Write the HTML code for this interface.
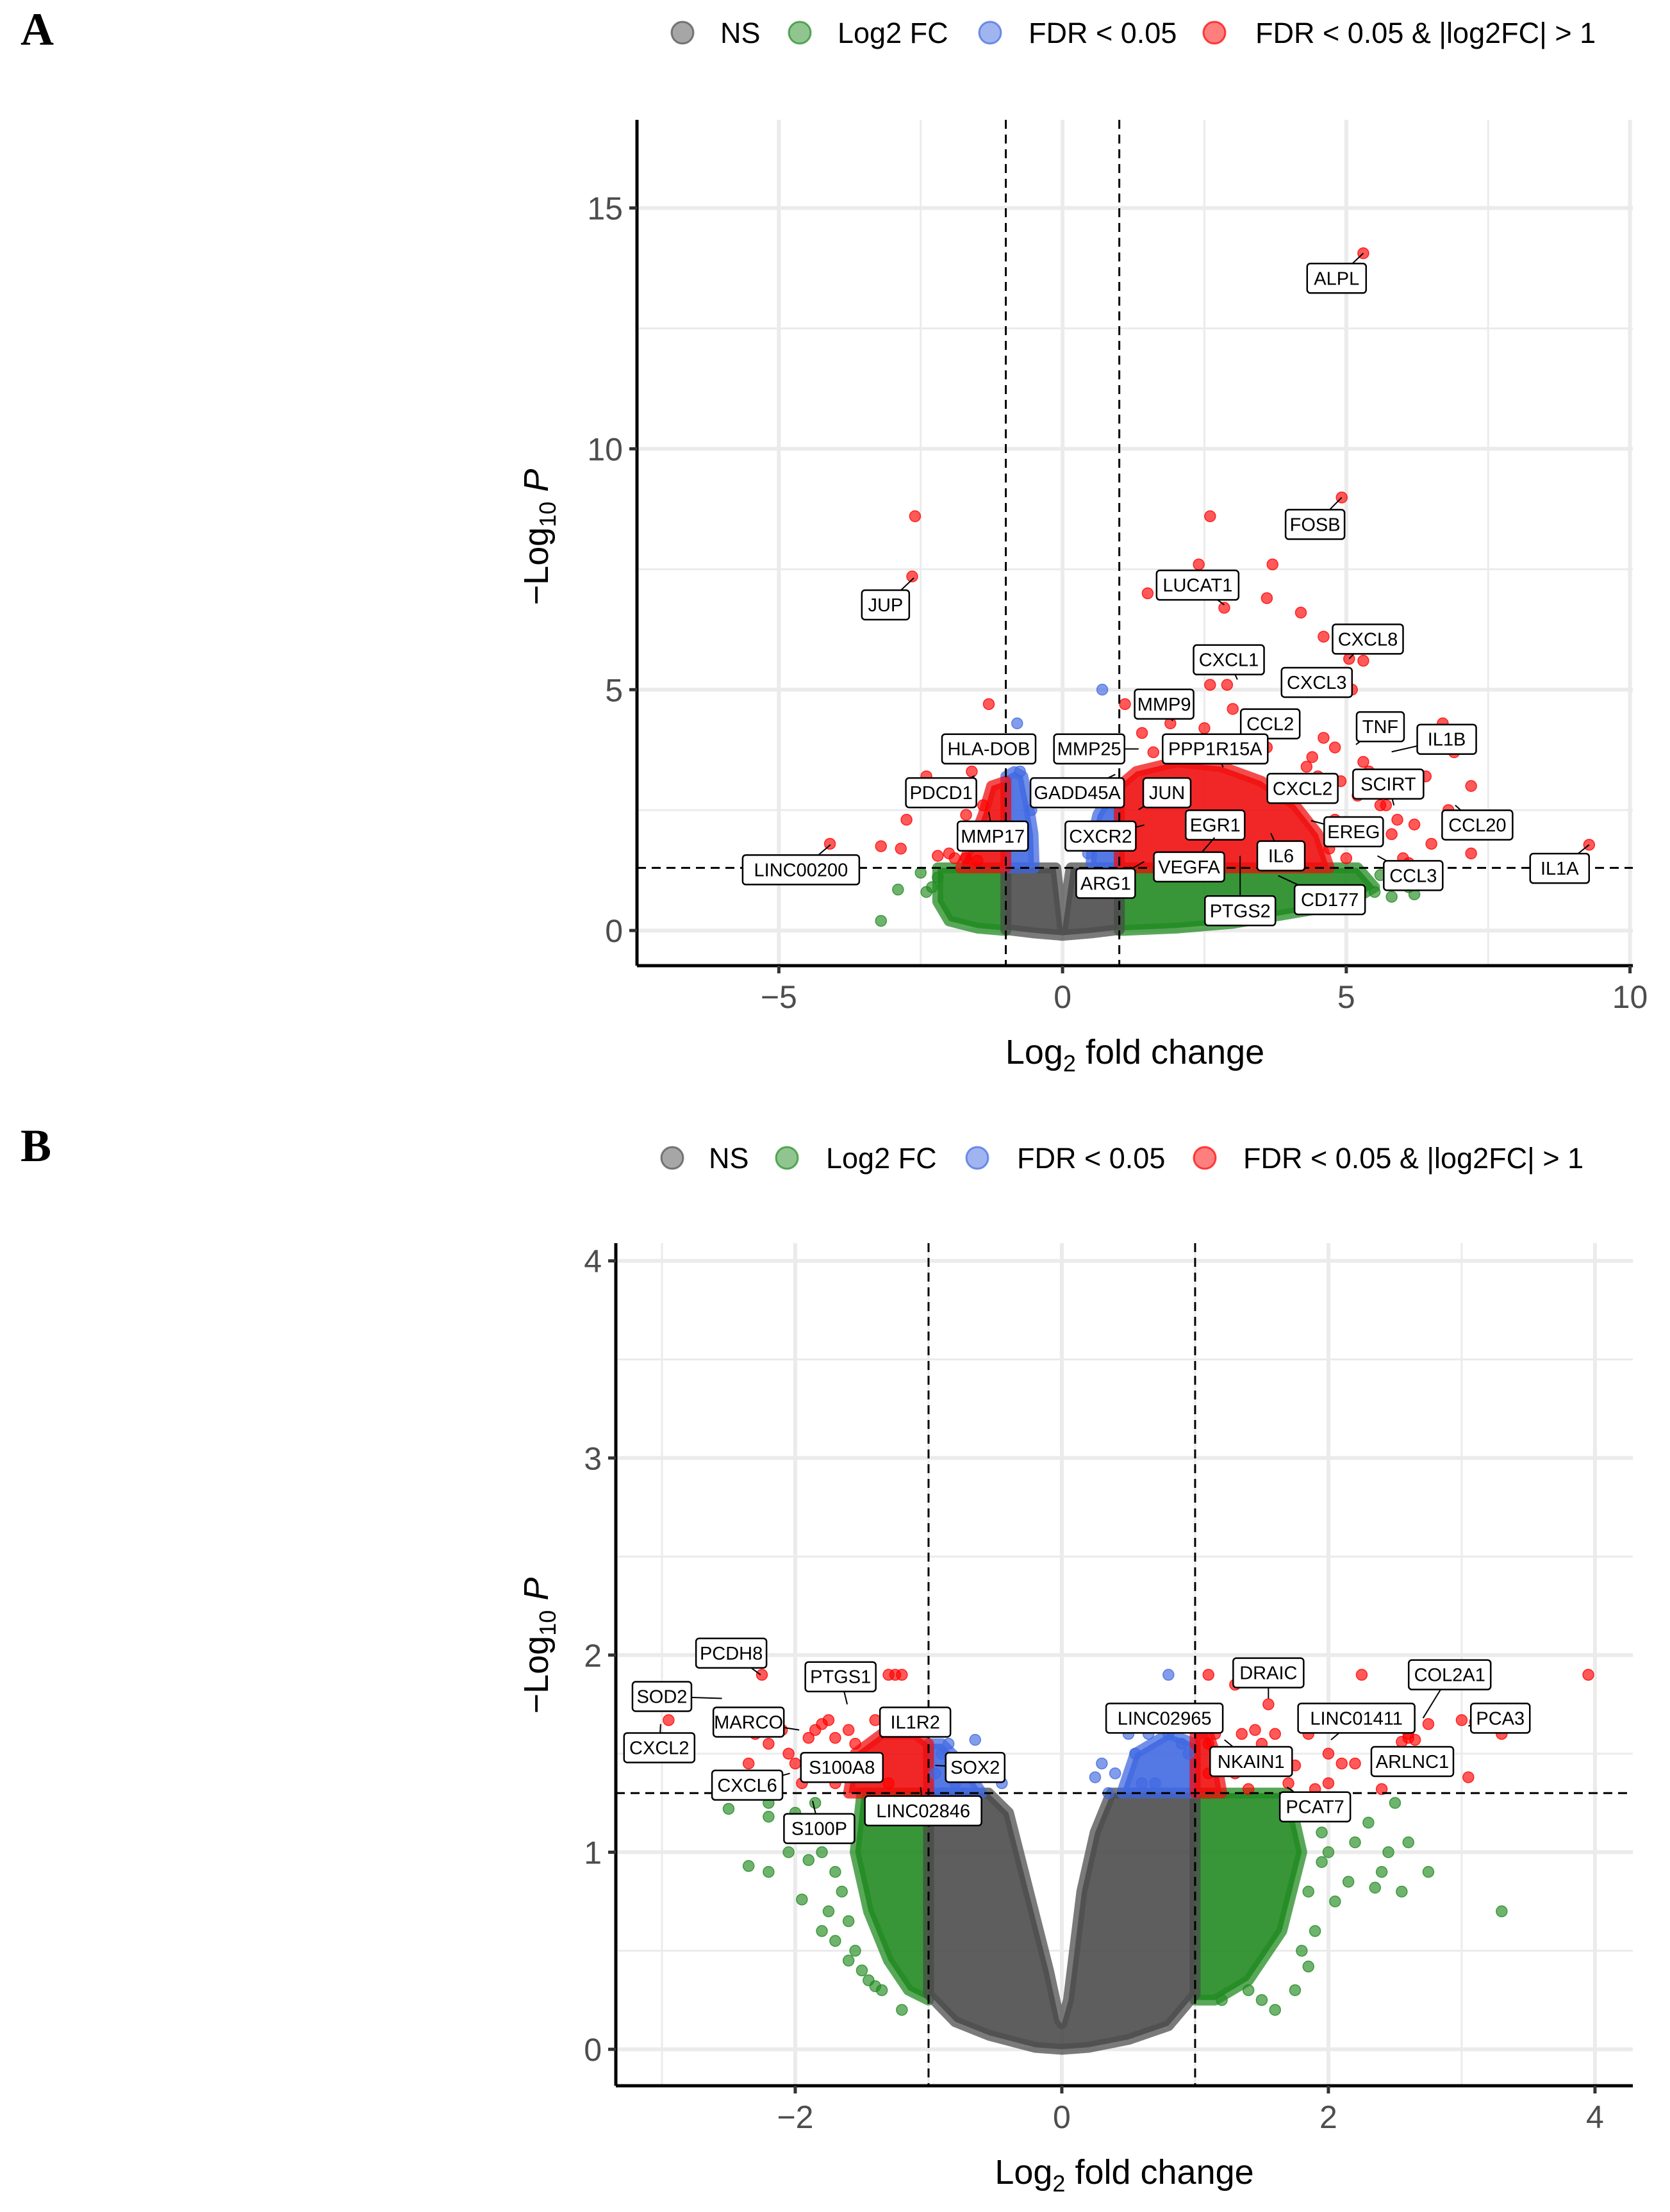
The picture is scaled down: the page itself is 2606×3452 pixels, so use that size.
<!DOCTYPE html>
<html><head><meta charset="utf-8">
<style>
html,body{margin:0;padding:0;background:#fff;}
svg{display:block;font-family:"Liberation Sans",sans-serif;}
</style></head>
<body>
<svg id="fig" width="2606" height="3452" viewBox="0 0 2606 3452" xmlns="http://www.w3.org/2000/svg">
<text x="32" y="70" font-family="Liberation Serif" font-weight="bold" font-size="72">A</text>
<text x="32" y="1812" font-family="Liberation Serif" font-weight="bold" font-size="72">B</text>
<g id="panelA"></g>
<g id="panelB"></g>
</svg>
<script>
// ===== Panel A data =====
const aGray = [[-1,1.3],[-0.12,1.3],[0,0.05],[0.1,0.9],[0.15,1.3],[1,1.3],[1,0.02],[0.5,-0.05],[0,-0.1],[-0.5,-0.05],[-1,0.02]];
const aGreenL = [[-2.2,1.3],[-1,1.3],[-1,0.0],[-1.5,0.05],[-2.0,0.2],[-2.2,0.6]];
const aGreenR = [[1,1.3],[5.2,1.3],[5.5,0.9],[5.0,0.55],[4.0,0.35],[3,0.15],[2,0.05],[1,0.0]];
const aBlueL = [[-1,1.3],[-0.5,1.3],[-0.52,2.0],[-0.6,2.6],[-0.7,3.2],[-0.85,3.3],[-1,3.2]];
const aBlueR = [[0.5,1.3],[1,1.3],[1,2.8],[0.8,2.75],[0.62,2.4],[0.52,1.9]];
const aRedL = [[-1,1.3],[-1.8,1.3],[-1.6,1.8],[-1.4,2.4],[-1.25,3.0],[-1,3.1]];
const aRedR = [[1,1.3],[1,3.0],[1.3,3.3],[2,3.5],[2.8,3.4],[3.5,3.1],[4.1,2.6],[4.5,2.0],[4.7,1.3]];
const aRedX = [-2.6,-2.65,-1.3,-4.1,-3.2,-2.75,-2.85,-2.4,-2.2,-1.7,-1.6,-1.7,-1.4,-1.9,-2.0,-1.5,2.6,2.4,1.5,2.85,3.7,3.6,4.2,4.6,5.3,5.1,4.0,2.6,2.9,3.0,1.1,2.5,1.9,4.6,4.8,5.3,6.7,6.9,7.2,6.8,7.2,6.5,9.28,5.9,6.1,5.8,5.05,4.92,5.3,3.9,4.4,5.6,6.2,4.9,5.2,5.5,4.7,5.0,5.7,6.0,4.3,4.5,3.6,3.3,2.2,1.6,1.4,5.4,6.4,4.8];
const aRedY = [8.6,7.35,4.7,1.8,1.75,2.3,1.7,3.2,1.55,1.5,3.3,2.4,2.6,1.5,1.6,1.45,8.6,7.6,7.0,6.7,7.6,6.9,6.6,6.1,5.6,5.0,5.0,5.1,5.1,4.6,4.7,4.2,4.3,4.0,3.8,3.5,4.3,3.7,3.0,2.5,1.6,1.8,1.78,2.3,1.4,2.0,5.64,8.99,14.06,4.2,3.6,2.6,2.2,3.1,2.8,1.9,1.7,1.5,2.6,1.5,3.4,3.2,3.8,3.6,3.9,3.7,4.1,3.3,3.2,2.3];
const aBlueX = [0.7,-0.8,-0.75,0.6,0.8,-0.55,0.45];
const aBlueY = [5.0,4.3,3.3,2.9,3.0,2.5,1.6];
const aGreenX = [-3.2,-2.9,-2.4,-2.2,5.8,6.1,5.5,5.9,-2.5,-2.3,5.6,6.2];
const aGreenY = [0.2,0.85,0.8,1.1,0.7,0.9,0.8,1.1,1.2,0.9,1.15,0.75];
const aLabels = ["ALPL","FOSB","LUCAT1","JUP","CXCL8","CXCL1","CXCL3","MMP9","CCL2","TNF","IL1B","HLA-DOB","MMP25","PPP1R15A","GADD45A","JUN","CXCL2","SCIRT","PDCD1","EGR1","EREG","CCL20","MMP17","CXCR2","IL6","VEGFA","CCL3","IL1A","LINC00200","ARG1","CD177","PTGS2"];
const aLabX = [4.83,4.45,2.38,-3.12,5.38,2.93,4.48,1.79,3.66,5.60,6.77,-1.30,0.47,2.69,0.26,1.84,4.23,5.74,-2.14,2.69,5.13,7.31,-1.23,0.67,3.85,2.23,6.18,8.76,-4.61,0.76,4.71,3.13];
const aLabY = [13.54,8.43,7.17,6.76,6.05,5.62,5.15,4.70,4.29,4.23,3.97,3.77,3.77,3.77,2.86,2.86,2.95,3.04,2.86,2.19,2.05,2.19,1.96,1.96,1.55,1.32,1.14,1.29,1.26,0.98,0.64,0.41];
const aPtX = [5.30,4.92,2.85,-2.62,5.05,3.08,4.30,1.94,3.18,5.17,5.80,-1.23,1.34,2.83,0.93,1.34,3.80,5.84,-1.55,2.19,4.38,6.92,-1.30,1.44,3.67,2.68,5.55,9.28,-4.09,1.44,3.80,3.13];
const aPtY = [14.06,8.99,6.76,7.32,5.64,5.21,4.83,4.35,4.06,3.86,3.71,3.45,3.77,3.39,3.24,2.51,3.13,2.60,3.21,2.02,2.28,2.60,2.46,2.19,2.02,1.93,1.55,1.78,1.78,1.43,1.14,1.55];
const aXTicks = [-5,0,5,10], aYTicks = [0,5,10,15];

// ===== Panel B data =====
const bGray = [[-1,1.3],[-0.55,1.3],[-0.4,1.2],[-0.25,0.8],[-0.1,0.4],[-0.02,0.15],[0,0.13],[0.05,0.25],[0.15,0.8],[0.25,1.1],[0.37,1.3],[1,1.3],[1,0.28],[0.8,0.12],[0.5,0.05],[0.2,0.01],[0,0],[-0.2,0.01],[-0.54,0.07],[-0.8,0.14],[-1,0.28]];
const bGreenL = [[-1.5,1.3],[-1,1.3],[-1,0.25],[-1.15,0.3],[-1.3,0.45],[-1.45,0.7],[-1.55,1.0]];
const bGreenR = [[1,1.3],[1.7,1.3],[1.8,1.0],[1.65,0.6],[1.4,0.35],[1.15,0.25],[1,0.25]];
const bBlueL = [[-1,1.3],[-0.6,1.3],[-0.75,1.45],[-0.9,1.55],[-1,1.55]];
const bBlueR = [[0.45,1.3],[1,1.3],[1,1.55],[0.8,1.6],[0.55,1.5]];
const bRedL = [[-1,1.3],[-1.6,1.3],[-1.55,1.5],[-1.35,1.6],[-1.1,1.6],[-1,1.55]];
const bRedR = [[1,1.3],[1.2,1.3],[1.15,1.5],[1.1,1.6],[1,1.6]];
const bRedX = [-2.95,-2.25,-2.3,-2.35,-2.2,-2.05,-1.85,-1.75,-1.6,-1.4,-1.3,-1.25,-1.2,-1.95,-1.7,-1.5,-1.3,-2.1,-1.9,-1.8,1.1,1.3,1.55,2.25,3.95,3.0,3.3,3.05,2.75,2.6,2.4,2.1,2.0,1.85,1.6,1.15,1.2,1.1,1.4,1.7,1.9,2.0,1.1,2.65,2.55,3.1,1.65,1.75,1.45,-1.7,-1.55,-2.0,-1.65,1.35,1.5,1.3,2.2,2.6];
const bRedY = [1.67,1.9,1.6,1.45,1.55,1.5,1.62,1.67,1.62,1.67,1.9,1.9,1.9,1.35,1.35,1.4,1.35,1.62,1.58,1.65,1.9,1.85,1.75,1.9,1.9,1.67,1.6,1.38,1.65,1.58,1.32,1.45,1.5,1.6,1.6,1.6,1.5,1.4,1.32,1.35,1.32,1.35,1.55,1.57,1.56,1.66,1.47,1.44,1.62,1.58,1.55,1.45,1.45,1.6,1.55,1.4,1.45,1.6];
const bBlueX = [-0.85,-0.65,-0.9,-0.95,-0.8,-0.45,-0.9,0.8,0.5,0.55,0.3,0.25,0.4,0.6,0.8,0.9,0.35,0.7,0.95,0.65];
const bBlueY = [1.55,1.57,1.5,1.4,1.35,1.35,1.3,1.9,1.6,1.5,1.45,1.38,1.4,1.35,1.6,1.55,1.3,1.35,1.5,1.6];
const bGreenX = [-2.5,-2.2,-2.2,-2.35,-2.2,-2.05,-1.9,-1.8,-1.95,-1.8,-1.7,-1.5,-1.4,-1.2,3.3,2.75,2.55,2.5,2.6,2.3,2.1,2.15,1.9,1.85,1.2,1.4,2.35,2.0,1.95,2.2,-1.6,-1.65,-1.75,-1.55,-1.6,-1.45,-1.35,-1.7,1.8,1.85,1.95,2.05,2.45,2.4,1.75,1.6,1.5,-2.0,-1.85];
const bGreenY = [1.22,1.18,1.25,0.93,0.9,1.0,0.96,1.0,0.76,0.6,0.55,0.4,0.32,0.2,0.7,0.9,0.8,1.25,1.05,1.15,1.2,0.85,0.6,0.42,0.25,0.3,0.82,1.0,0.95,1.05,0.65,0.8,0.7,0.5,0.45,0.35,0.3,0.9,0.5,0.8,1.1,0.75,1.0,0.9,0.3,0.2,0.25,1.2,1.25];
const bLabels = ["PCDH8","SOD2","CXCL2","MARCO","PTGS1","IL1R2","S100A8","CXCL6","S100P","SOX2","LINC02846","LINC02965","DRAIC","LINC01411","COL2A1","PCA3","NKAIN1","ARLNC1","PCAT7"];
const bLabX = [-2.48,-3.0,-3.02,-2.35,-1.66,-1.10,-1.65,-2.36,-1.82,-0.65,-1.04,0.77,1.55,2.21,2.91,3.29,1.42,2.63,1.90];
const bLabY = [2.01,1.79,1.53,1.66,1.89,1.66,1.43,1.34,1.12,1.43,1.21,1.68,1.91,1.68,1.90,1.68,1.46,1.46,1.23];
const bPtX = [-2.26,-2.55,-3.01,-1.97,-1.61,-1.35,-1.91,-2.04,-1.87,-0.95,-1.06,1.20,1.55,2.02,2.71,3.05,1.22,2.52,1.69];
const bPtY = [1.90,1.78,1.65,1.62,1.75,1.58,1.46,1.40,1.26,1.44,1.33,1.63,1.78,1.57,1.68,1.64,1.57,1.54,1.33];
const bXTicks = [-2,0,2,4], bYTicks = [0,1,2,3,4];

const NS = "http://www.w3.org/2000/svg";
const COL = {gray:"#4d4d4d", green:"#228B22", blue:"#4169E1", red:"#FF0000"};
function mk(tag, attrs, parent){const e=document.createElementNS(NS,tag);for(const k in attrs)e.setAttribute(k,attrs[k]);parent.appendChild(e);return e;}

function panel(g, cfg){
  const {L,R,T,B,x0,x1,y0,y1} = cfg;
  const sx = v => L + (v-x0)/(x1-x0)*(R-L);
  const sy = v => B - (v-y0)/(y1-y0)*(B-T);
  cfg.minorX.forEach(v=>{const l=mk('line',{x1:sx(v),x2:sx(v),y1:T,y2:B,stroke:'#ebebeb','stroke-width':3},g);
    });
  cfg.minorY.forEach(v=>{const l=mk('line',{x1:L,x2:R,y1:sy(v),y2:sy(v),stroke:'#ebebeb','stroke-width':3},g);
    });
  cfg.xt.forEach(v=>{const l=mk('line',{x1:sx(v),x2:sx(v),y1:T,y2:B,stroke:'#ebebeb','stroke-width':6},g);
    });
  cfg.yt.forEach(v=>{const l=mk('line',{x1:L,x2:R,y1:sy(v),y2:sy(v),stroke:'#ebebeb','stroke-width':6},g);
    });
  const region=(pts,c,name)=>{const p=mk('polygon',{points:pts.map(q=>sx(q[0])+','+sy(q[1])).join(' '),fill:c,stroke:c,'stroke-width':17,'stroke-linejoin':'round','fill-opacity':0.9,'stroke-opacity':0.75},g);
    };
  const dots=(xs,ys,c,name)=>{xs.forEach((x,i)=>{const d=mk('circle',{cx:sx(x),cy:sy(ys[i]),r:8.5,fill:c,'fill-opacity':0.65,stroke:c,'stroke-opacity':0.8,'stroke-width':1.5},g);
    });};
  cfg.green.forEach(r=>region(r,COL.green,'log2fc-cloud'));
  region(cfg.gray,COL.gray,'ns-cloud');
  cfg.blue.forEach(r=>region(r,COL.blue,'fdr-cloud'));
  cfg.red.forEach(r=>region(r,'#f01010','significant-cloud'));
  dots(cfg.gX,cfg.gY,COL.green,'log2fc-point');
  dots(cfg.bX,cfg.bY,COL.blue,'fdr-point');
  dots(cfg.rX,cfg.rY,COL.red,'significant-point');
  [-1,1].forEach(v=>{const l=mk('line',{x1:sx(v),x2:sx(v),y1:T,y2:B,stroke:'#000','stroke-width':3,'stroke-dasharray':'14 9'},g);
    });
  const h=mk('line',{x1:L,x2:R,y1:sy(1.3),y2:sy(1.3),stroke:'#000','stroke-width':3,'stroke-dasharray':'14 9'},g);
  
  cfg.labs.forEach((t,i)=>{
    const lx=sx(cfg.lx[i]), ly=sy(cfg.ly[i]), px=sx(cfg.px[i]), py=sy(cfg.py[i]);
    const ln=mk('line',{x1:lx,y1:ly,x2:px,y2:py,stroke:'#000','stroke-width':2},g);
    
    const w=t.length*18+20;
    const r=mk('rect',{x:lx-w/2,y:ly-23,width:w,height:46,rx:5,fill:'#fff',stroke:'#000','stroke-width':2.5},g);
    
    const tx=mk('text',{x:lx,y:ly+10,'text-anchor':'middle','font-size':29,fill:'#000'},g);
    tx.textContent=t;
    
  });
  const ax=mk('line',{x1:L,x2:R,y1:B,y2:B,stroke:'#000','stroke-width':5},g);
  
  const ay=mk('line',{x1:L,x2:L,y1:T,y2:B,stroke:'#000','stroke-width':5},g);
  
  cfg.xt.forEach(v=>{mk('line',{x1:sx(v),x2:sx(v),y1:B,y2:B+12,stroke:'#333','stroke-width':5},g);
    const t=mk('text',{x:sx(v),y:B+66,'text-anchor':'middle','font-size':50,fill:'#4d4d4d'},g);
    t.textContent=(v<0?'\u2212'+(-v):v);});
  cfg.yt.forEach(v=>{mk('line',{x1:L-12,x2:L,y1:sy(v),y2:sy(v),stroke:'#333','stroke-width':5},g);
    const t=mk('text',{x:L-22,y:sy(v)+18,'text-anchor':'end','font-size':50,fill:'#4d4d4d'},g);
    t.textContent=v;});
  const xl=mk('text',{x:(L+R)/2,y:cfg.xlabY,'text-anchor':'middle','font-size':54,fill:'#000'},g);
  xl.innerHTML='Log<tspan font-size="36" dy="12">2</tspan><tspan dy="-12"> fold change</tspan>';
  
  const yl=mk('text',{transform:'translate('+cfg.ylabX+','+cfg.ylabY+') rotate(-90)','text-anchor':'middle','font-size':54,fill:'#000'},g);
  yl.innerHTML='\u2212Log<tspan font-size="36" dy="12">10</tspan><tspan dy="-12" font-style="italic"> P</tspan>';
  
  const lc=['#4d4d4d','#228B22','#4169E1','#FF0000'], lt=['NS','Log2 FC','FDR < 0.05','FDR < 0.05 & |log2FC| > 1'];
  lc.forEach((c,i)=>{const ci=mk('circle',{cx:cfg.legC[i],cy:cfg.legY,r:17,fill:c,'fill-opacity':0.5,stroke:c,'stroke-opacity':0.7,'stroke-width':3},g);
    
    const t=mk('text',{x:cfg.legT[i],y:cfg.legY+16,'font-size':45,fill:'#000'},g);t.textContent=lt[i];
    });
}

panel(document.getElementById('panelA'),{L:994,R:2548,T:187,B:1507,x0:-7.5,x1:10.05,y0:-0.73,y1:16.83,
  xt:aXTicks,yt:aYTicks,minorX:[-2.5,2.5,7.5],minorY:[2.5,7.5,12.5],
  gray:aGray,green:[aGreenL,aGreenR],blue:[aBlueL,aBlueR],red:[aRedL,aRedR],
  gX:aGreenX,gY:aGreenY,bX:aBlueX,bY:aBlueY,rX:aRedX,rY:aRedY,
  labs:aLabels,lx:aLabX,ly:aLabY,px:aPtX,py:aPtY,
  xlabY:1660,ylabX:855,ylabY:838,legY:51,legC:[1065,1248,1545,1895],legT:[1124,1307,1605,1959]});
panel(document.getElementById('panelB'),{L:961,R:2548,T:1940,B:3255,x0:-3.346,x1:4.284,y0:-0.185,y1:4.09,
  xt:bXTicks,yt:bYTicks,minorX:[-3,-1,1,3],minorY:[0.5,1.5,2.5,3.5],
  gray:bGray,green:[bGreenL,bGreenR],blue:[bBlueL,bBlueR],red:[bRedL,bRedR],
  gX:bGreenX,gY:bGreenY,bX:bBlueX,bY:bBlueY,rX:bRedX,rY:bRedY,
  labs:bLabels,lx:bLabX,ly:bLabY,px:bPtX,py:bPtY,
  xlabY:3408,ylabX:855,ylabY:2568,legY:1807,legC:[1049,1228,1525,1880],legT:[1106,1289,1587,1940]});
</script>
</body></html>
